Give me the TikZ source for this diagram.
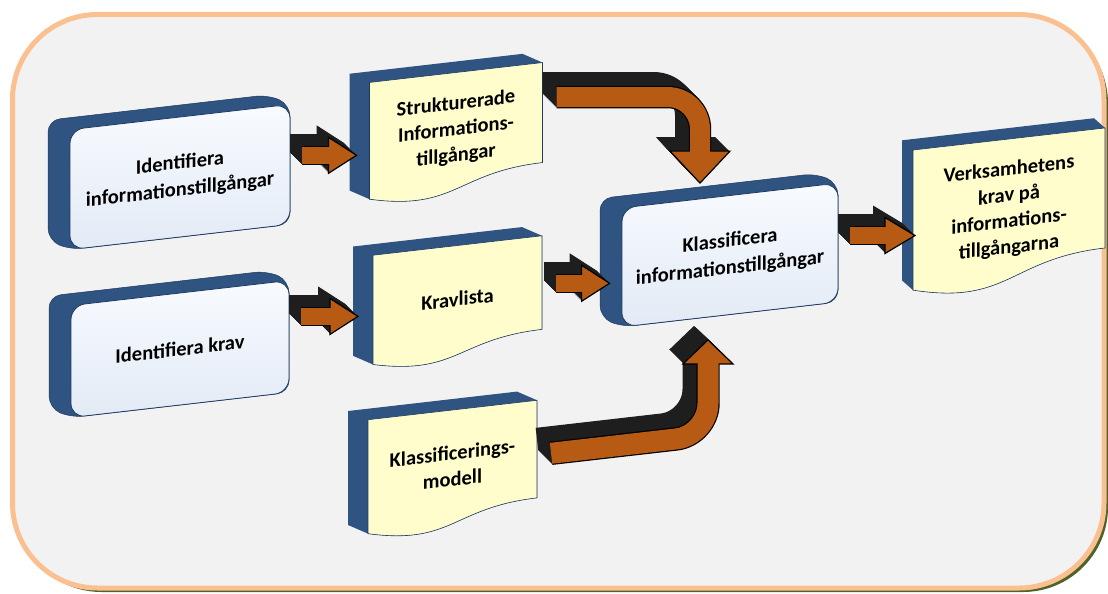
\documentclass[tikz,border=0pt]{standalone}
\usepackage{fontspec}
\setmainfont{Carlito}
\usetikzlibrary{calc}
\definecolor{framebg}{HTML}{F2F2F2}
\definecolor{frameline}{HTML}{FAC090}
\definecolor{frameshadow}{HTML}{4F6228}
\definecolor{extblue}{HTML}{2F5481}
\definecolor{edgeblue}{HTML}{1F3A60}
\definecolor{faceblueA}{HTML}{F8FBFF}
\definecolor{faceblueB}{HTML}{E2EAF5}
\definecolor{docyellow}{HTML}{FEFDCB}
\definecolor{arroworange}{HTML}{B65A14}
\definecolor{arrowdark}{HTML}{1E1E1E}
\tikzset{
  boxface/.style={draw=edgeblue, line width=0.8, rounded corners=14, top color=faceblueA, bottom color=faceblueB, align=center, font=\bfseries\fontsize{20.5}{27}\selectfont, inner sep=0},
  doctext/.style={align=center, font=\bfseries\fontsize{20.5}{26}\selectfont, inner sep=0},
  docface/.style={draw=edgeblue, line width=0.6, fill=docyellow},
  extrude/.style={fill=extblue, draw=edgeblue, line width=0.5, rounded corners=12},
}
% blue process box: name, cx, cy, w, h, text
\newcommand\bluebox[6]{%
  \begin{scope}[shift={(#2,#3)}, yslant=0.115]
    \path[extrude] ({-#4/2-22},{-#5/2-12}) -- ({#4/2-22},{-#5/2-12}) -- ({#4/2},{-#5/2}) -- ({#4/2},{#5/2}) -- ({-#4/2},{#5/2}) -- ({-#4/2-22},{#5/2-12}) -- cycle;
    \node[boxface, transform shape, minimum width=#4, minimum height=#5] (#1) at (0,0) {#6};
  \end{scope}}
% yellow document: name, cx, cy, w, h, depth, text
\newcommand\docbox[7]{%
  \begin{scope}[shift={(#2,#3)}, yslant=0.115]
    \pgfmathsetmacro\hw{#4/2}\pgfmathsetmacro\hh{#5/2}%
    \pgfmathsetmacro\yr{-\hh+0.80*#5}\pgfmathsetmacro\yl{-\hh+0.934*#5}\pgfmathsetmacro\yc{-\hh+1.107*#5}%
    \fill[extblue] ({-\hw-#6},{-\hh-11}) -- ({\hw-#6},{-\hh-11}) -- (\hw,-\hh) -- (\hw,\yr) .. controls (0,\yr) and (0,\yc) .. (-\hw,\yl) -- ({-\hw-#6},{\yl-11}) -- cycle;
    \path[docface] (-\hw,-\hh) -- (\hw,-\hh) -- (\hw,\yr) .. controls (0,\yr) and (0,\yc) .. (-\hw,\yl) -- cycle;
    \coordinate (#1w) at (-\hw,0);
    \coordinate (#1e) at (\hw,0);
    \node[doctext, transform shape] (#1) at (0,-5) {#7};
  \end{scope}}
% 3D fat arrow: body path, wing1, tip, wing2, body width, depth
\newcommand\fatarrow[6]{%
  \foreach \dd in {1,...,#6}{%
    \begin{scope}[transform canvas={shift={(-\dd,-\dd)}}]
      \draw[arrowdark, line width=#5+2, rounded corners=32] #1;
      \fill[arrowdark] #2 -- #3 -- #4 -- cycle;
    \end{scope}}
  \draw[black, line width=#5+2.4, rounded corners=32] #1;
  \filldraw[fill=arroworange, draw=black, line width=1.2, line join=miter] #2 -- #3 -- #4 -- cycle;
  \draw[arroworange, line width=#5, rounded corners=32, shorten >=-2] #1;
}
\begin{document}
\begin{tikzpicture}[x=1pt, y=-1pt]
\useasboundingbox (0,0) rectangle (1108,594);
% frame
\fill[frameshadow, rounded corners=85] (16.5,18.5) rectangle (1108,592);
\draw[frameline, line width=5, fill=framebg, rounded corners=85] (12.5,14.5) rectangle (1104,588);
% boxes
\bluebox{A}{180}{177}{220}{120}{Identifiera\\informationstillgångar}
\bluebox{B}{180}{349}{218}{112}{Identifiera krav}
\bluebox{C}{730}{255}{216}{119}{Klassificera\\informationstillgångar}
\docbox{D1}{456}{135}{173}{125}{20}{Strukturerade\\Informations-\\tillgångar}
\docbox{D2}{457.5}{304}{169}{117}{20}{Kravlista}
\docbox{D3}{452.5}{471}{169}{122}{20}{Klassificerings-\\modell}
\docbox{D4}{1009}{214}{192}{150}{11}{Verksamhetens\\krav på\\informations-\\tillgångarna}
% straight arrows
\coordinate (s1) at ($(A.east)+(12,-9)$);
\coordinate (t1) at ($(s1 -| D1w)+(-13,0)$);
\coordinate (b1) at ($(t1)+(-28,0)$);
\fatarrow{(s1) -- (b1)}{($(b1)+(0,-18)$)}{(t1)}{($(b1)+(0,18)$)}{17}{12}
\coordinate (s2) at ($(B.east)+(12,-20)$);
\coordinate (t2) at ($(s2 -| D2w)+(-15,0)$);
\coordinate (b2) at ($(t2)+(-28,0)$);
\fatarrow{(s2) -- (b2)}{($(b2)+(0,-18)$)}{(t2)}{($(b2)+(0,18)$)}{17}{12}
\coordinate (s3) at ($(D2e)+(14,-11)$);
\coordinate (t3) at ($(s3 -| C.west)+(-12,0)$);
\coordinate (b3) at ($(t3)+(-28,0)$);
\fatarrow{(s3) -- (b3)}{($(b3)+(0,-18)$)}{(t3)}{($(b3)+(0,18)$)}{17}{12}
\coordinate (s4) at ($(C.east)+(12,-7)$);
\coordinate (t4) at ($(s4 -| D4w)+(2,0)$);
\coordinate (b4) at ($(t4)+(-30,0)$);
\fatarrow{(s4) -- (b4)}{($(b4)+(0,-18)$)}{(t4)}{($(b4)+(0,18)$)}{17}{12}
% bent arrows
\coordinate (s5) at ($(D1e)+(14,-28)$);
\coordinate (t5) at ($(C.north)+(-30,-12)$);
\coordinate (b5) at ($(t5)+(0,-32)$);
\fatarrow{(s5) -- (s5 -| b5) -- (b5)}{($(b5)+(-30,0)$)}{(t5)}{($(b5)+(30,0)$)}{20}{14}
\coordinate (s6) at ($(D3e)+(14,-8)$);
\coordinate (t6) at ($(C.south)+(-22,25)$);
\coordinate (b6) at ($(t6)+(0,24)$);
\fatarrow{(s6) -- ($(b6 |- s6)+(0,-18)$) -- (b6)}{($(b6)+(-25,0)$)}{(t6)}{($(b6)+(25,0)$)}{21}{14}
\end{tikzpicture}
\end{document}
